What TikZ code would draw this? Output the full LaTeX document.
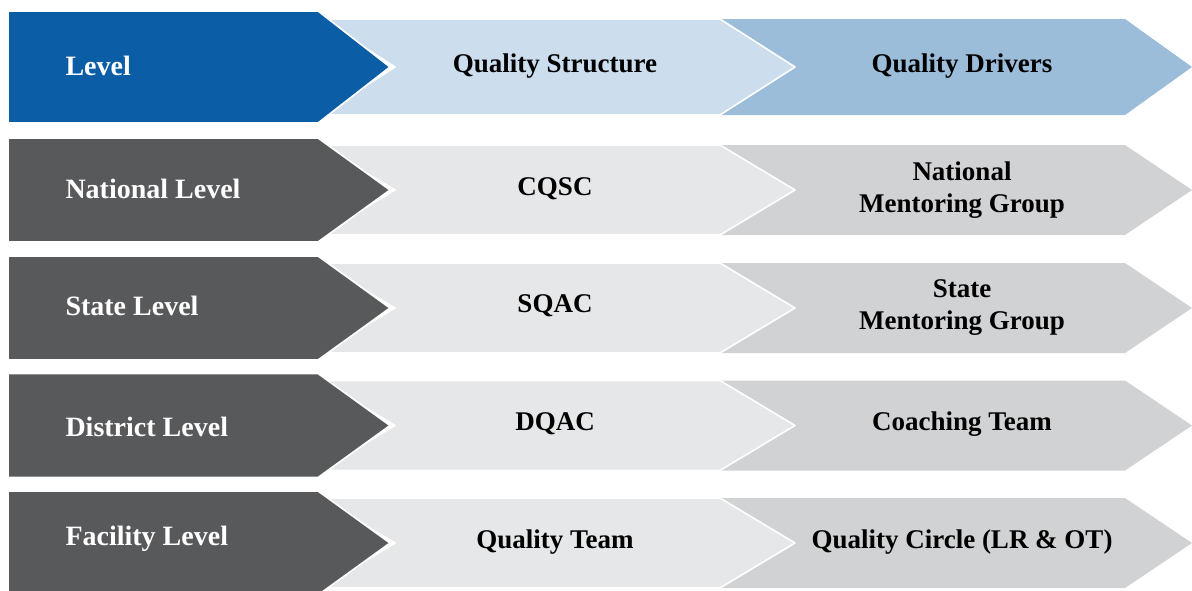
\documentclass[tikz,border=0pt]{standalone}
\usepackage{fontspec}
\setmainfont{Liberation Serif}

\definecolor{lvlblue}{HTML}{0B5EA5}
\definecolor{strblue}{HTML}{CCDEEE}
\definecolor{drvblue}{HTML}{9BBDDA}
\definecolor{lvlgrey}{HTML}{58595B}
\definecolor{strgrey}{HTML}{E6E7E8}
\definecolor{drvgrey}{HTML}{D1D2D4}

\begin{document}
\begin{tikzpicture}[x=1pt, y=-1pt]

	\tikzset{
	edge/.style={draw=white, line width=1.6pt, line join=round},
	lvltext/.style={anchor=west, text=white, font=\bfseries\fontsize{28}{32}\selectfont},
	midtext/.style={text=black, align=center, font=\bfseries\fontsize{27}{32}\selectfont}
	}

	\useasboundingbox (0,0) rectangle (1192,590);

	% Header shapes
	\fill[drvblue] (720,19) -- (1125,19) -- (1192,67) -- (1125,115) -- (720,115) -- (795,67) -- cycle;
	\fill[strblue, edge] (320,19) -- (720,19) -- (795,67) -- (720,115) -- (320,115) -- (395,67) -- cycle;
	\fill[lvlblue, edge] (8,11) -- (318,11) -- (390,67) -- (318,123) -- (8,123) -- cycle;

	% Row shapes
	\foreach \y in {190,308,425.5,543} {
		\fill[drvgrey] (720,{\y-45}) -- (1125,{\y-45}) -- (1192,\y) -- (1125,{\y+45}) -- (720,{\y+45}) -- (795,\y) -- cycle;
		\fill[strgrey, edge] (320,{\y-45}) -- (720,{\y-45}) -- (795,\y) -- (720,{\y+45}) -- (320,{\y+45}) -- (395,\y) -- cycle;
		\fill[lvlgrey, edge] (8,{\y-52}) -- (318,{\y-52}) -- (390,\y) -- (318,{\y+52}) -- (8,{\y+52}) -- cycle;
	}

	% Nodes
	\node[lvltext] (lvl) at (62,66) {Level};
	\node[midtext] (str) at (555,66) {Quality Structure};
	\node[midtext] (drv) at (962,66) {Quality Drivers};

	\node[lvltext] (natl) at (62,189) {National Level};
	\node[midtext] (cqsc) at (555,189) {CQSC};
	\node[midtext] (nmg) at (962,190) {National\\Mentoring Group};

	\node[lvltext] (statel) at (62,306) {State Level};
	\node[midtext] (sqac) at (555,306) {SQAC};
	\node[midtext] (smg) at (962,308) {State\\Mentoring Group};

	\node[lvltext] (distl) at (62,427) {District Level};
	\node[midtext] (dqac) at (555,424) {DQAC};
	\node[midtext] (coach) at (962,424) {Coaching Team};

	\node[lvltext] (facl) at (62,539) {Facility Level};
	\node[midtext] (qteam) at (555,542) {Quality Team};
	\node[midtext] (qcirc) at (962,542) {Quality Circle (LR \& OT)};

\end{tikzpicture}
\end{document}
